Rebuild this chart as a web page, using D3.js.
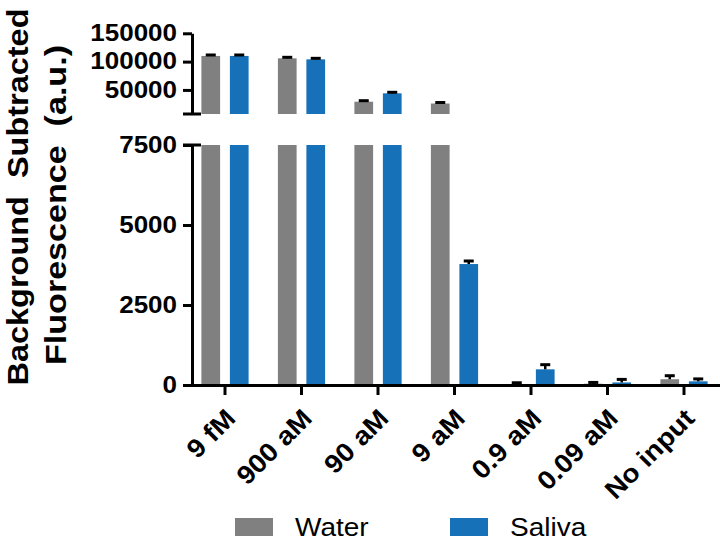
<!DOCTYPE html>
<html><head><meta charset="utf-8">
<script src="https://cdn.jsdelivr.net/npm/d3@7"></script>
<style>
body{margin:0;background:#fff;}
text{font-family:"Liberation Sans",Arial,sans-serif;}
</style></head>
<body><svg id="c" width="720" height="546"></svg>
<script>
const categories = ["9 fM","900 aM","90 aM","9 aM","0.9 aM","0.09 aM","No input"];
const seriesNames = ["Water","Saliva"];
const seriesColors = ["#808080","#1771b9"];
const waterValues = [110000,105800,29200,26000,30,40,180];
const waterErrors = [1700,1800,1800,1800,40,40,110];
const salivaValues = [110000,104000,44000,3780,490,80,115];
const salivaErrors = [1700,1800,1800,95,145,95,75];
const lowerTicks = [0,2500,5000,7500];
const upperTicks = [50000,100000,150000];
const breakValue = 7500;
const upperMax = 150000;
const yLabelLines = ["Background  Subtracted","Fluorescence  (a.u.)"];

const svg = d3.select("#c");
const axisX = 192;
const yLow = d3.scaleLinear().domain([0, breakValue]).range([385, 145]);
const yUp = d3.scaleLinear().domain([breakValue, upperMax]).range([114, 33.3]);
const x = d3.scaleBand().domain(categories).range([186.75, 722.25]).padding(0);
const bw = x.bandwidth();
const xs = d3.scaleBand().domain(seriesNames).range([bw/2 - 23.6, bw/2 + 23.6]).paddingInner(0.343);

const data = [];
categories.forEach((c,i)=>{
  data.push({c, s:"Water", v:waterValues[i], e:waterErrors[i]});
  data.push({c, s:"Saliva", v:salivaValues[i], e:salivaErrors[i]});
});
const col = d3.scaleOrdinal().domain(seriesNames).range(seriesColors);

const stretch = (sel, f) => sel.each(function(){
  const L = this.getComputedTextLength();
  d3.select(this).attr("textLength", L*f).attr("lengthAdjust","spacingAndGlyphs");
});

// bars
const g = svg.append("g");
data.forEach(d=>{
  const bx = x(d.c) + xs(d.s);
  const w = xs.bandwidth();
  let top;
  if (d.v <= breakValue) {
    g.append("rect").attr("x",bx).attr("width",w).attr("y",yLow(d.v)).attr("height",yLow(0)-yLow(d.v)).attr("fill",col(d.s));
    top = {y: yLow(d.v), ye: yLow(d.v + d.e)};
  } else {
    g.append("rect").attr("x",bx).attr("width",w).attr("y",yLow(breakValue)).attr("height",yLow(0)-yLow(breakValue)).attr("fill",col(d.s));
    g.append("rect").attr("x",bx).attr("width",w).attr("y",yUp(d.v)).attr("height",yUp(breakValue)-yUp(d.v)).attr("fill",col(d.s));
    top = {y: yUp(d.v), ye: yUp(d.v + d.e)};
  }
  const cx = bx + w/2;
  g.append("line").attr("x1",cx).attr("x2",cx).attr("y1",top.y).attr("y2",top.ye).attr("stroke","#000").attr("stroke-width",2.5);
  g.append("line").attr("x1",cx-5).attr("x2",cx+5).attr("y1",top.ye).attr("y2",top.ye).attr("stroke","#000").attr("stroke-width",3);
});

// axes
const styleAxis = (sel) => {
  sel.selectAll(".domain").attr("stroke","#000").attr("stroke-width",3);
  sel.selectAll(".tick line").attr("stroke","#000").attr("stroke-width",3);
  sel.selectAll(".tick text").attr("fill","#000").style("font-size","23px").style("font-weight","bold");
};
const gl = svg.append("g").attr("transform",`translate(${axisX},0)`)
  .call(d3.axisLeft(yLow).tickValues(lowerTicks).tickSize(9).tickSizeOuter(0).tickPadding(6).tickFormat(d3.format("d")));
styleAxis(gl); stretch(gl.selectAll(".tick text"),1.13);
const gu = svg.append("g").attr("transform",`translate(${axisX},0)`)
  .call(d3.axisLeft(yUp).tickValues(upperTicks).tickSize(9).tickSizeOuter(0).tickPadding(6).tickFormat(d3.format("d")));
styleAxis(gu); stretch(gu.selectAll(".tick text"),1.13);
// segment end caps
[yUp(breakValue), yLow(breakValue)].forEach(yy=>{
  svg.append("line").attr("x1",axisX-9).attr("x2",axisX+9).attr("y1",yy).attr("y2",yy).attr("stroke","#000").attr("stroke-width",3);
});

const gx = svg.append("g").attr("transform",`translate(0,${yLow(0)})`)
  .call(d3.axisBottom(x).tickSize(10).tickSizeOuter(0).tickFormat(""));
styleAxis(gx);
gx.selectAll(".tick").append("text")
  .attr("transform","translate(12,35) rotate(-45)")
  .attr("text-anchor","end").attr("fill","#000")
  .style("font-size","26px").style("font-weight","bold")
  .text(d=>d).call(s=>stretch(s,1.08));

// y label
const yl = svg.append("g");
[[28,yLabelLines[0],197,377],[66,yLabelLines[1],205,320]].forEach(([xx,t,cy,len])=>{
  yl.append("text").attr("transform",`translate(${xx},${cy}) rotate(-90)`)
    .attr("text-anchor","middle").attr("fill","#000")
    .style("font-size","30px").style("font-weight","bold").style("white-space","pre")
    .attr("textLength",len).attr("lengthAdjust","spacingAndGlyphs")
    .text(t);
});

// legend
const legX = [235, 450];
seriesNames.forEach((s,i)=>{
  svg.append("rect").attr("x",legX[i]).attr("y",518).attr("width",38).attr("height",18).attr("fill",col(s));
  svg.append("text").attr("x",legX[i]+60).attr("y",536).attr("fill","#000")
    .style("font-size","25px").text(s).call(sel=>stretch(sel,1.12));
});
</script></body></html>
